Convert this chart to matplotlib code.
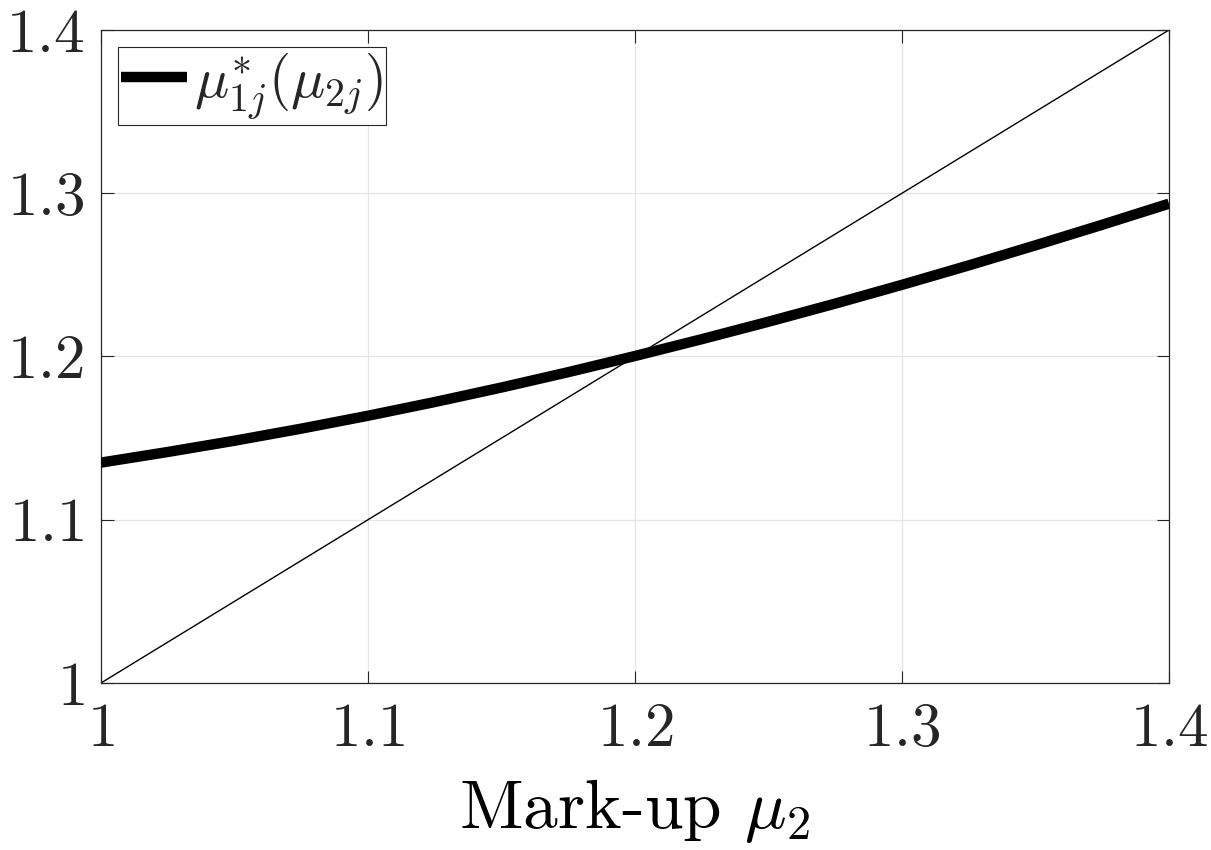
import matplotlib
matplotlib.use("Agg")
import matplotlib.pyplot as plt

plt.rcParams["font.family"] = "serif"
plt.rcParams["font.serif"] = ["cmr10", "DejaVu Serif"]
plt.rcParams["mathtext.fontset"] = "cm"
plt.rcParams["axes.unicode_minus"] = False
plt.rcParams["text.color"] = "#262626"
plt.rcParams["xtick.color"] = "#262626"
plt.rcParams["ytick.color"] = "#262626"

# Mark-up of firm 2 and best-response mark-up of firm 1
mu2 = [1.000, 1.025, 1.050, 1.075, 1.100, 1.125, 1.150, 1.175, 1.200,
       1.225, 1.250, 1.275, 1.300, 1.325, 1.350, 1.375, 1.400]
mu1_star = [1.1350, 1.1415, 1.1484, 1.1558, 1.1637, 1.1721, 1.1810, 1.1904,
            1.2003, 1.2106, 1.2213, 1.2324, 1.2439, 1.2558, 1.2681, 1.2807,
            1.2936]

# 45-degree reference line
diag_x = [1.0, 1.4]
diag_y = [1.0, 1.4]

ticks = [1.0, 1.1, 1.2, 1.3, 1.4]
tick_labels = ["$1$", "$1.1$", "$1.2$", "$1.3$", "$1.4$"]

fig = plt.figure(figsize=(12.11, 8.5), dpi=100)
ax = fig.add_axes([0.0834, 0.1965, 0.8819, 0.7682])

ax.plot(mu2, mu1_star, color="black", lw=7.5, solid_capstyle="butt",
        solid_joinstyle="round", label=r"$\mu_{1j}^{*}(\mu_{2j})$", zorder=3)
ax.plot(diag_x, diag_y, color="black", lw=1.0, zorder=2)

ax.set_xlim(1.0, 1.4)
ax.set_ylim(1.0, 1.4)
ax.set_xticks(ticks)
ax.set_yticks(ticks)
ax.set_xticklabels(tick_labels)
ax.set_yticklabels(tick_labels)
ax.tick_params(axis="both", direction="in", length=9, width=0.8,
               labelsize=44, top=True, right=True)
ax.tick_params(axis="x", pad=14)
ax.tick_params(axis="y", pad=12)
ax.grid(True, color="#e6e6e6", lw=0.9)
ax.set_axisbelow(True)
for s in ax.spines.values():
    s.set_color("#262626")
    s.set_linewidth(0.9)

ax.set_xlabel(r"Mark-up $\mu_2$", fontsize=50, labelpad=14)

leg = ax.legend(loc="upper left", fontsize=41, handlelength=1.15,
                handletextpad=0.12, borderpad=0.06, borderaxespad=0.3,
                fancybox=False, framealpha=1.0)
leg.get_frame().set_edgecolor("#262626")
leg.get_frame().set_linewidth(0.8)

fig.savefig("out.png", dpi=100)
